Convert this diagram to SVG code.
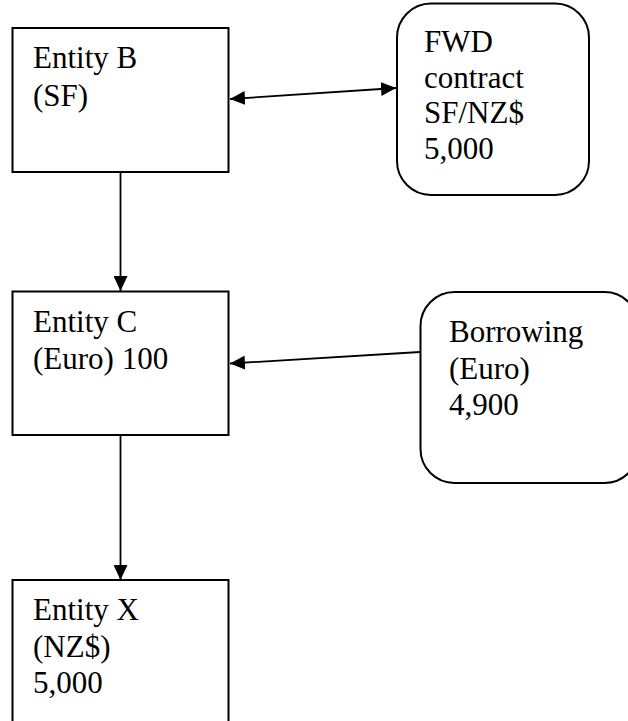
<svg xmlns="http://www.w3.org/2000/svg" width="628" height="721" viewBox="0 0 628 721">
  <style>
    .box { fill: #ffffff; stroke: #000000; stroke-width: 2; }
    .label { font-size: 31px; fill: #000000; }
    .conn { fill: none; stroke: #000000; stroke-width: 1.8; }
  </style>
  <defs>
    <marker id="arrow" viewBox="0 0 15 14" refX="15" refY="7" markerWidth="15" markerHeight="14" markerUnits="userSpaceOnUse" orient="auto-start-reverse">
      <path d="M0,0 L15,7 L0,14 z" fill="#000000"/>
    </marker>
  </defs>

  <rect width="628" height="721" fill="#ffffff"/>

  <g font-family="Liberation Serif, DejaVu Serif, serif">
    <!-- Entity B -->
    <g id="entity-b">
      <rect class="box" x="12.5" y="28" width="216" height="144"/>
      <text class="label" x="33" y="68">Entity B</text>
      <text class="label" x="33" y="106">(SF)</text>
    </g>

    <!-- Forward contract -->
    <g id="fwd-contract">
      <rect class="box" x="397" y="3.5" width="192" height="191.5" rx="34" ry="34"/>
      <text class="label" x="424" y="52">FWD</text>
      <text class="label" x="424" y="87.5">contract</text>
      <text class="label" x="424" y="123">SF/NZ$</text>
      <text class="label" x="424" y="158.5">5,000</text>
    </g>

    <!-- Entity C -->
    <g id="entity-c">
      <rect class="box" x="12.5" y="291.5" width="216" height="143.5"/>
      <text class="label" x="33" y="332">Entity C</text>
      <text class="label" x="33" y="369">(Euro) 100</text>
    </g>

    <!-- Borrowing -->
    <g id="borrowing">
      <rect class="box" x="420.5" y="292" width="218" height="191" rx="34" ry="34"/>
      <text class="label" x="449" y="342">Borrowing</text>
      <text class="label" x="449" y="379">(Euro)</text>
      <text class="label" x="449" y="415">4,900</text>
    </g>

    <!-- Entity X -->
    <g id="entity-x">
      <rect class="box" x="12.5" y="580" width="216" height="160"/>
      <text class="label" x="33" y="620">Entity X</text>
      <text class="label" x="33" y="657">(NZ$)</text>
      <text class="label" x="33" y="693">5,000</text>
    </g>
  </g>

  <!-- Connectors -->
  <g id="connectors">
    <path class="conn" d="M230,99 L396,88" marker-start="url(#arrow)" marker-end="url(#arrow)"/>
    <path class="conn" d="M120.5,172 L120.5,291" marker-end="url(#arrow)"/>
    <path class="conn" d="M420,352 L230,363.5" marker-end="url(#arrow)"/>
    <path class="conn" d="M120.5,435 L120.5,580" marker-end="url(#arrow)"/>
  </g>
</svg>
